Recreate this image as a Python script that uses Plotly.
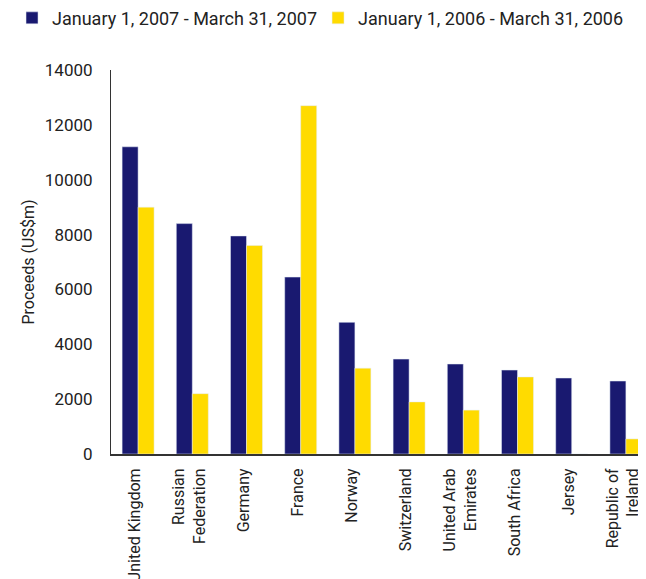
import plotly.graph_objects as go

countries = ["United Kingdom", "Russian<br>Federation", "Germany", "France", "Norway",
             "Switzerland", "United Arab<br>Emirates", "South Africa", "Jersey",
             "Republic of<br>Ireland"]
proceeds_2007 = [11200, 8400, 7950, 6450, 4800, 3460, 3280, 3060, 2770, 2660]
proceeds_2006 = [9000, 2200, 7600, 12700, 3130, 1900, 1600, 2810, 0, 550]

NAVY = "#191970"
YELLOW = "#FFDB00"
FONT = "Roboto"

fig = go.Figure()
fig.add_trace(go.Bar(x=countries, y=proceeds_2007, name="January 1, 2007 - March 31, 2007",
                     marker_color=NAVY, legend="legend"))
fig.add_trace(go.Bar(x=countries, y=proceeds_2006, name="January 1, 2006 - March 31, 2006",
                     marker_color=YELLOW, legend="legend2"))

# page body adds an 8px offset, margins account for it
fig.update_layout(
    width=646, height=579,
    barmode="group", bargap=0.41, bargroupgap=0,
    plot_bgcolor="white", paper_bgcolor="white",
    font=dict(family=FONT, size=16, color="#222222"),
    margin=dict(l=103, r=1, t=62, b=133, autoexpand=False),
    showlegend=True,
    legend=dict(orientation="h", x=-0.1826, xanchor="left", y=1.135, yanchor="middle",
                font=dict(size=18), itemwidth=30),
    legend2=dict(orientation="h", x=0.382, xanchor="left", y=1.135, yanchor="middle",
                 font=dict(size=18), itemwidth=30),
)
fig.update_xaxes(
    tickangle=-90, showline=True, linecolor="#333333", linewidth=2,
    showgrid=False, ticks="", automargin=False, ticklabelstandoff=6,
    ticklabelshift=-3, tickfont=dict(size=16),
)
fig.update_yaxes(
    range=[0, 14000], dtick=2000, tickformat="d", showline=True,
    linecolor="#333333", linewidth=1, automargin=False,
    showgrid=False, zeroline=False, ticks="", ticklabelstandoff=14,
    title=dict(text="Proceeds (US$m)", standoff=6, font=dict(size=16)),
    tickfont=dict(size=17),
)

fig.write_html("out.html")
